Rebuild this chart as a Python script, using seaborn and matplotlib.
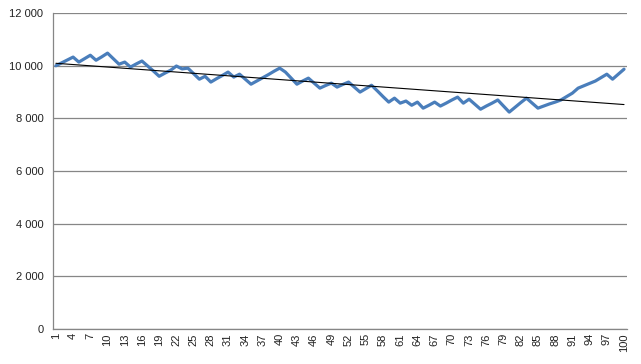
import numpy as np
import pandas as pd
import matplotlib
matplotlib.use('Agg')
import matplotlib.pyplot as plt
from matplotlib.ticker import FuncFormatter, MultipleLocator, FixedLocator
import seaborn as sns

# values
periods = list(range(1, 101))
values = [
    10000, 10110, 10220, 10330, 10140, 10270, 10400, 10210, 10340, 10480,
    10270, 10060, 10140, 9950, 10070, 10180, 9990, 9800, 9600, 9720,
    9830, 9990, 9880, 9910, 9700, 9490, 9600, 9380, 9510, 9630,
    9760, 9570, 9680, 9490, 9300, 9420, 9540, 9660, 9790, 9910,
    9760, 9530, 9300, 9420, 9530, 9340, 9150, 9250, 9340, 9190,
    9290, 9380, 9190, 9000, 9130, 9260, 9050, 8830, 8620, 8770,
    8580, 8660, 8500, 8620, 8390, 8500, 8620, 8470, 8580, 8700,
    8810, 8580, 8730, 8540, 8350, 8470, 8580, 8700, 8470, 8240,
    8420, 8600, 8770, 8580, 8390, 8470, 8550, 8620, 8700, 8830,
    8960, 9150, 9240, 9330, 9420, 9550, 9680, 9490, 9680, 9870,
]
label_ticks = list(range(1, 101, 3))

df = pd.DataFrame({'period': periods, 'value': values})

sns.set_style('white')
plt.rcParams['font.family'] = ['Liberation Sans', 'DejaVu Sans']

fig = plt.figure(figsize=(6.41, 3.64), dpi=100)
ax = fig.add_axes([0.0827, 0.096, 0.8953, 0.868])

grey = '#868686'
ax.yaxis.grid(True, color=grey, linewidth=0.9)
ax.set_axisbelow(True)

sns.lineplot(data=df, x='period', y='value', ax=ax, color='#4A7EBB',
             linewidth=2.3, zorder=3)
sns.regplot(data=df, x='period', y='value', ax=ax, scatter=False, ci=None,
            line_kws={'color': 'black', 'linewidth': 0.8, 'zorder': 4})

ax.set_xlim(0.5, 100.5)
ax.set_ylim(0, 12000)
ax.yaxis.set_major_locator(MultipleLocator(2000))
ax.yaxis.set_major_formatter(FuncFormatter(lambda v, p: f'{int(v):,}'.replace(',', ' ')))

ax.xaxis.set_major_locator(FixedLocator(label_ticks))
ax.xaxis.set_minor_locator(FixedLocator(np.arange(0.5, 101, 1)))
ax.tick_params(axis='x', which='major', length=0, pad=3, labelrotation=90,
               labelsize=8, labelcolor='#222222')
ax.tick_params(axis='x', which='minor', length=4, width=0.8, color=grey, direction='out')
ax.tick_params(axis='y', which='major', length=4, width=0.8, color=grey, direction='out',
               labelsize=8, labelcolor='#222222', pad=3)

for s in ['top', 'right']:
    ax.spines[s].set_visible(False)
for s in ['left', 'bottom']:
    ax.spines[s].set_color(grey)
    ax.spines[s].set_linewidth(0.9)

ax.set_xlabel('')
ax.set_ylabel('')

fig.savefig('out.png', dpi=100)
